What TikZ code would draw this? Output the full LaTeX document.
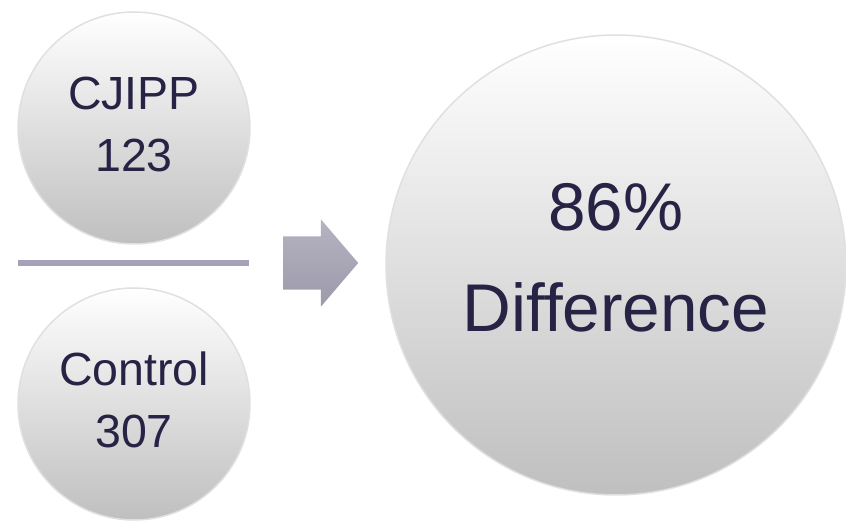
\documentclass[tikz,border=0pt]{standalone}
\usepackage{fontspec}
\setmainfont{Liberation Sans}
\usetikzlibrary{positioning,shapes.arrows}
\definecolor{txtnavy}{HTML}{262345}
\definecolor{arrowgrey}{HTML}{9C9AAB}
\definecolor{bargrey}{HTML}{A4A2B8}
\tikzstyle{ball}=[circle, inner sep=0pt, align=center, text=txtnavy, top color=white, bottom color=black!25, draw=black!12, line width=1.5pt]
\tikzstyle{small_ball}=[ball, minimum size=232pt, text depth=8pt, font=\fontsize{46.5}{62}\selectfont]
\tikzstyle{big_ball}=[ball, minimum size=460pt, text depth=16pt, font=\fontsize{67.5}{101}\selectfont]
\tikzstyle{fat_arrow}=[single arrow, inner xsep=0pt, inner ysep=26.5pt, minimum height=75pt, single arrow head extend=17pt, single arrow tip angle=99, top color=arrowgrey!75, bottom color=arrowgrey, draw=none]

\begin{document}
\begin{tikzpicture}[x=1pt, y=1pt, node distance=276pt, on grid]
\useasboundingbox (0,0) rectangle (846,525);

% left side: the two counts
        \node[small_ball] (cjipp) at (134,397) {CJIPP\\123};
        \node[small_ball, below=of cjipp] (ctrl) {Control\\307};

        % fraction bar
        \coordinate (barL) at (18,262);
        \coordinate (barR) at (249,262);
        \draw[bargrey, line width=6pt] (barL) -- (barR);

        % result
        \node[fat_arrow, anchor=tail] (arr) at (283,262) {};
        \node[big_ball] (diff) at (616,260) {86\%\\Difference};

\end{tikzpicture}
\end{document}
